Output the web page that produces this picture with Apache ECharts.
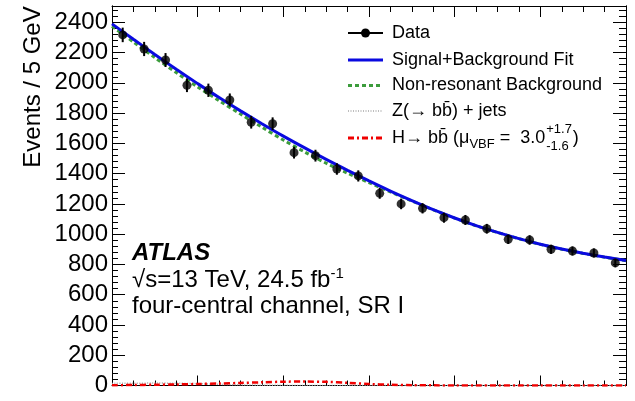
<!DOCTYPE html>
<html><head><meta charset="utf-8">
<script src="https://cdn.jsdelivr.net/npm/echarts@6/dist/echarts.min.js"></script>
<style>html,body{margin:0;padding:0;background:#fff}#c{width:635px;height:401px}</style>
</head><body><div id="c"></div>
<script>
// ---- data ----
const binCenters = [82.5,87.5,92.5,97.5,102.5,107.5,112.5,117.5,122.5,127.5,132.5,137.5,142.5,147.5,152.5,157.5,162.5,167.5,172.5,177.5,182.5,187.5,192.5,197.5];
const dataValues = [2317,2224,2151,1984,1951,1887,1740,1730,1539,1519,1431,1385,1270,1200,1171,1109,1094,1036,966,962,900,889,876,810];
const dataErrors = [48,47,46,45,44,43,42,42,39,39,38,37,36,35,34,33,33,32,31,31,30,30,30,28];
const curveX = [80,85,90,95,100,105,110,115,120,125,130,135,140,145,150,155,160,165,170,175,180,185,190,195,200];
const fitValues = [2390,2288,2188,2090,1995,1903,1815,1730,1648,1570,1494,1422,1352,1285,1222,1162,1107,1057,1012,971,934,902,874,849,826];
const bkgValues = [2374,2270,2167,2068,1973,1882,1794,1707,1622,1543,1469,1403,1341,1279,1220,1161,1106,1056,1011,970,933,901,873,848,825];
const zjetsValues = [14,15,16,15,12,8,4,2,1,0.5,0.5,0.5,0.5,0.5,0.5,0.5,0.5,0.5,0.5,0.5,0.5,0.5,0.5,0.5,0.5];
const higgsValues = [2,3,5,7,10,13,17,21,25,26,24,18,10,5,2,1,0.5,0.5,0.5,0.5,0.5,0.5,0.5,0.5,0.5];
const yTickLabels = [0,200,400,600,800,1000,1200,1400,1600,1800,2000,2200,2400];

const FONT = '"Liberation Sans", Arial, sans-serif';
const pair = (xs, ys) => xs.map((x, i) => [x, ys[i]]);

const chart = echarts.init(document.getElementById('c'), null, {renderer: 'canvas'});

const ctx = document.createElement('canvas').getContext('2d');
function tw(s, size) { ctx.font = size + 'px ' + FONT; return ctx.measureText(s).width; }

const X_MIN = 80, X_MAX = 200, Y_MAX = 2508;
const axisBase = {
  min: X_MIN, max: X_MAX, interval: 20, type: 'value',
  axisLine: {show: true, onZero: false, lineStyle: {color: '#000', width: 1}},
  axisLabel: {show: false}, splitLine: {show: false}
};
const xAxes = [
  Object.assign({}, axisBase, {position: 'bottom',
    axisTick: {show: true, inside: true, length: 10, lineStyle: {color: '#000'}},
    minorTick: {show: true, splitNumber: 4, length: 5, lineStyle: {color: '#000'}}}),
  Object.assign({}, axisBase, {position: 'top',
    axisTick: {show: true, inside: true, length: 11, lineStyle: {color: '#000'}},
    minorTick: {show: true, splitNumber: 4, length: 6, lineStyle: {color: '#000'}}})
];
function yAx(pos, interval, len, labels) {
  return {
    type: 'value', min: 0, max: Y_MAX, interval: interval, position: pos,
    axisLine: {show: true, onZero: false, lineStyle: {color: '#000', width: 1}},
    axisTick: {show: true, inside: true, length: len, lineStyle: {color: '#000'}},
    splitLine: {show: false},
    axisLabel: labels ? {
      show: true, fontSize: 24, color: '#000', fontFamily: FONT, margin: 4,
      formatter: v => (yTickLabels.indexOf(v) >= 0 ? String(v) : '')
    } : {show: false}
  };
}
const yAxes = [yAx('left', 200, 13, true), yAx('left', 40, 6, false), yAx('right', 200, 13, false), yAx('right', 40, 7, false)];

// legend row helper values
const LX1 = 348, LX2 = 383, TX = 392;
const rows = [33, 60, 85.5, 111, 138];
const hPart1 = 'H\u2192 bb\u0304 (\u03bc';
const hPart2 = ' =  3.0';
const w1 = tw(hPart1, 18), wv = tw('VBF', 13), w2 = tw(hPart2, 18);
const supX = TX + w1 + wv + w2 + 1;
const supW = Math.max(tw('+1.7', 13), tw('-1.6', 13));

const graphics = [
  {type: 'text', x: 33, y: 87, rotation: Math.PI / 2,
   style: {text: 'Events / 5 GeV', font: '24px ' + FONT, fill: '#000', align: 'center', verticalAlign: 'middle'}},
  {type: 'text', x: 132, y: 253,
   style: {text: 'ATLAS', font: 'italic bold 24px ' + FONT, fill: '#000', align: 'left', verticalAlign: 'middle'}},
  {type: 'text', x: 132, y: 280,
   style: {text: '{m|\u221As=13 TeV, 24.5 fb}{s|-1}', align: 'left', verticalAlign: 'middle',
     rich: {m: {fontSize: 24, fontFamily: FONT, fill: '#000', lineHeight: 28},
            s: {fontSize: 15, fontFamily: FONT, fill: '#000', verticalAlign: 'top', lineHeight: 15}}}},
  {type: 'text', x: 132, y: 306,
   style: {text: 'four-central channel, SR I', font: '24px ' + FONT, fill: '#000', align: 'left', verticalAlign: 'middle'}},
  // legend
  {type: 'line', shape: {x1: LX1, y1: rows[0], x2: LX2, y2: rows[0]}, style: {stroke: '#000', lineWidth: 2}},
  {type: 'circle', shape: {cx: (LX1 + LX2) / 2, cy: rows[0], r: 4.5}, style: {fill: '#000'}},
  {type: 'text', x: TX, y: rows[0], style: {text: 'Data', font: '18px ' + FONT, fill: '#000', verticalAlign: 'middle'}},
  {type: 'line', shape: {x1: LX1, y1: rows[1], x2: LX2, y2: rows[1]}, style: {stroke: '#0a0ae0', lineWidth: 3}},
  {type: 'text', x: TX, y: rows[1], style: {text: 'Signal+Background Fit', font: '18px ' + FONT, fill: '#000', verticalAlign: 'middle'}},
  {type: 'line', shape: {x1: LX1, y1: rows[2], x2: LX2, y2: rows[2]}, style: {stroke: '#3c9c3c', lineWidth: 3, lineDash: [4, 3]}},
  {type: 'text', x: TX, y: rows[2], style: {text: 'Non-resonant Background', font: '18px ' + FONT, fill: '#000', verticalAlign: 'middle'}},
  {type: 'line', shape: {x1: LX1, y1: rows[3], x2: LX2, y2: rows[3]}, style: {stroke: '#a8a8a8', lineWidth: 1.5, lineDash: [1, 1.5]}},
  {type: 'text', x: TX, y: rows[3], style: {text: 'Z(\u2192 bb\u0304) + jets', font: '18px ' + FONT, fill: '#000', verticalAlign: 'middle'}},
  {type: 'line', shape: {x1: LX1, y1: rows[4], x2: LX2, y2: rows[4]}, style: {stroke: '#f00000', lineWidth: 3, lineDash: [6, 3, 2, 3]}},
  {type: 'text', x: TX, y: rows[4],
   style: {text: '{m|' + hPart1 + '}{v|VBF}{m|' + hPart2 + '}', verticalAlign: 'middle', align: 'left',
     rich: {m: {fontSize: 18, fontFamily: FONT, fill: '#000', lineHeight: 22},
            v: {fontSize: 13, fontFamily: FONT, fill: '#000', lineHeight: 13, padding: [12, 0, 0, 0]}}}},
  {type: 'text', x: supX, y: rows[4] - 9, style: {text: '+1.7', font: '13px ' + FONT, fill: '#000', verticalAlign: 'middle'}},
  {type: 'text', x: supX, y: rows[4] + 8, style: {text: '-1.6', font: '13px ' + FONT, fill: '#000', verticalAlign: 'middle'}},
  {type: 'text', x: supX + supW + 1, y: rows[4], style: {text: ')', font: '18px ' + FONT, fill: '#000', verticalAlign: 'middle'}}
];

const option = {
  animation: false,
  backgroundColor: '#fff',
  grid: {left: 112, right: 9, top: 6, bottom: 15.5, containLabel: false},
  xAxis: xAxes,
  yAxis: yAxes,
  graphic: graphics,
  series: [
    {name: 'Z(bb)+jets', type: 'line', data: pair(curveX, zjetsValues), showSymbol: false, smooth: 0.3, clip: true,
     lineStyle: {color: '#a8a8a8', width: 1.5, type: [1, 1.5]}, z: 2},
    {name: 'Hbb', type: 'line', data: pair(curveX, higgsValues), showSymbol: false, smooth: 0.3, clip: true,
     lineStyle: {color: '#f00000', width: 2.5, type: [6, 3, 2, 3]}, z: 3},
    {name: 'Non-resonant Background', type: 'line', data: pair(curveX, bkgValues), showSymbol: false, smooth: 0.3, clip: true,
     lineStyle: {color: '#3c9c3c', width: 3, type: [4, 3]}, z: 3},
    {name: 'Signal+Background Fit', type: 'line', data: pair(curveX, fitValues), showSymbol: false, smooth: 0.3, clip: true,
     lineStyle: {color: '#0a0ae0', width: 3}, z: 4},
    {name: 'Data errors', type: 'custom', z: 5,
     data: binCenters.map((x, i) => [x, dataValues[i], dataErrors[i]]),
     encode: {x: 0, y: 1},
     renderItem: function (params, api) {
       const x = api.value(0), y = api.value(1), e = api.value(2);
       const p1 = api.coord([x, y - e]), p2 = api.coord([x, y + e]);
       return {type: 'line', shape: {x1: p1[0], y1: p1[1], x2: p2[0], y2: p2[1]}, style: {stroke: '#000', lineWidth: 2}};
     }},
    {name: 'Data', type: 'scatter', z: 6, data: pair(binCenters, dataValues), symbol: 'circle', symbolSize: 9,
     itemStyle: {color: '#000'}}
  ]
};
chart.setOption(option);
</script></body></html>
